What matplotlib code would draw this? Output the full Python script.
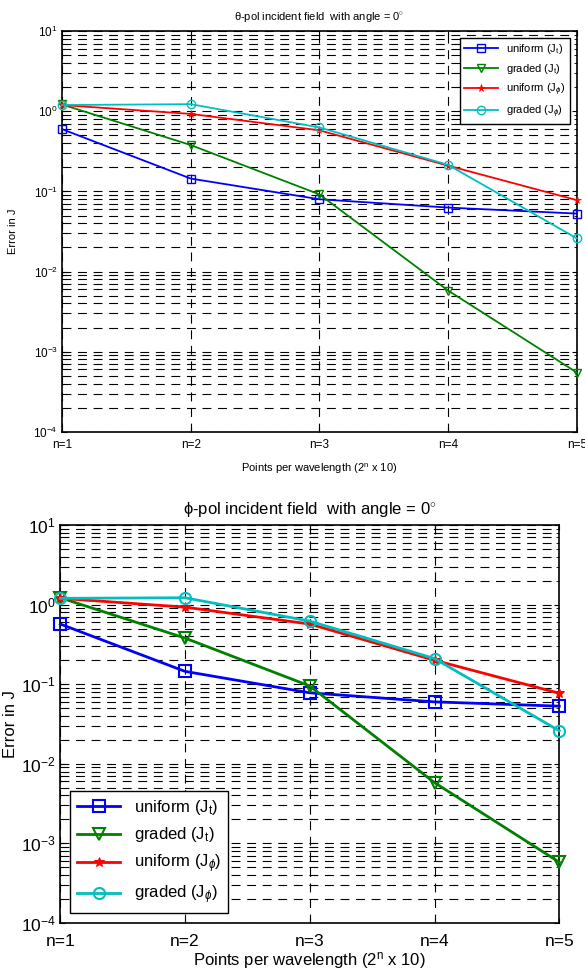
import matplotlib
matplotlib.use("Agg")
import matplotlib.pyplot as plt
import numpy as np
from matplotlib.ticker import LogLocator, NullFormatter

plt.rcParams['font.family'] = ['Liberation Sans', 'DejaVu Sans']
plt.rcParams['mathtext.fontset'] = 'custom'
plt.rcParams['mathtext.rm'] = 'Liberation Sans'
plt.rcParams['mathtext.it'] = 'Liberation Sans:italic'
plt.rcParams['mathtext.sf'] = 'Liberation Sans'

n = [1, 2, 3, 4, 5]
xticklabels = ["n=1", "n=2", "n=3", "n=4", "n=5"]

# theta-pol
theta_uniform_t = [0.60, 0.145, 0.080, 0.063, 0.053]
theta_graded_t = [1.22, 0.38, 0.092, 0.0058, 0.00055]
theta_uniform_p = [1.20, 0.93, 0.58, 0.21, 0.078]
theta_graded_p = [1.20, 1.23, 0.63, 0.215, 0.026]

# phi-pol
phi_uniform_t = [0.57, 0.145, 0.078, 0.060, 0.053]
phi_graded_t = [1.22, 0.38, 0.095, 0.0058, 0.00058]
phi_uniform_p = [1.20, 0.93, 0.57, 0.20, 0.077]
phi_graded_p = [1.20, 1.22, 0.62, 0.21, 0.026]

labels = [r"uniform (J$_\mathrm{t}$)", r"graded (J$_\mathrm{t}$)",
          r"uniform (J$_{\phi}$)", r"graded (J$_{\phi}$)"]
colors = ["#0000ff", "#008000", "#ff0000", "#00bfbf"]
markers = ["s", "v", "*", "o"]

fig = plt.figure(figsize=(5.85, 9.77), dpi=100)


def make(ax, data, title, fs, tfs, lw, ms, mew, legloc, hl, ylx, xlpad, xpad):
    for d, lab, c, m in zip(data, labels, colors, markers):
        if m == "*":
            ax.plot(n, d, color=c, marker=m, mfc=c, mec=c, ms=ms * 0.9, mew=mew * 0.5,
                    lw=lw, label=lab, clip_on=False, zorder=3)
        else:
            ax.plot(n, d, color=c, marker=m, mfc='none', mec=c, ms=ms, mew=mew,
                    lw=lw, label=lab, clip_on=False, zorder=3)
    ax.set_yscale('log')
    ax.set_ylim(1e-4, 1e1)
    ax.set_xlim(1, 5)
    ax.set_xticks(n)
    ax.set_xticklabels(xticklabels)
    ax.yaxis.set_major_locator(LogLocator(base=10, numticks=10))
    ax.yaxis.set_minor_locator(LogLocator(base=10, subs=np.arange(2, 10), numticks=50))
    ax.yaxis.set_minor_formatter(NullFormatter())
    ax.grid(True, which='major', axis='both', color='black', ls=(0, (8, 6)), lw=0.8)
    ax.grid(True, which='minor', axis='y', color='black', ls=(0, (8, 6)), lw=0.8)
    ax.tick_params(which='both', direction='in', top=True, right=True, labelsize=tfs)
    ax.tick_params(axis='x', pad=xpad)
    ax.tick_params(axis='y', pad=3)
    for s in ax.spines.values():
        s.set_linewidth(1.2)
    ax.set_title(title, fontsize=fs, pad=8)
    ax.set_xlabel(r"Points per wavelength (2$^\mathrm{n}$ x 10)", fontsize=fs, labelpad=xlpad)
    ax.set_ylabel("Error in J", fontsize=fs)
    ax.yaxis.set_label_coords(ylx, 0.5)
    leg = ax.legend(loc=legloc, fontsize=fs, frameon=True, fancybox=False,
                    edgecolor='black', framealpha=1, handlelength=hl,
                    borderaxespad=0.6)
    leg.get_frame().set_linewidth(1.0)


ax1 = fig.add_axes([0.106, 0.558, 0.880, 0.410])
make(ax1, [theta_uniform_t, theta_graded_t, theta_uniform_p, theta_graded_p],
     r"θ-pol incident field  with angle = 0$^{\circ}$", 8, 8.5, 1.3, 6, 1.0,
     'upper right', 3.0, -0.085, 8, 5)

ax2 = fig.add_axes([0.103, 0.0553, 0.853, 0.4073])
make(ax2, [phi_uniform_t, phi_graded_t, phi_uniform_p, phi_graded_p],
     r"ϕ-pol incident field  with angle = 0$^{\circ}$", 12, 12.5, 2.0, 8, 1.5,
     'lower left', 2.6, -0.085, 1, 8)

fig.savefig("out.png", dpi=100)
